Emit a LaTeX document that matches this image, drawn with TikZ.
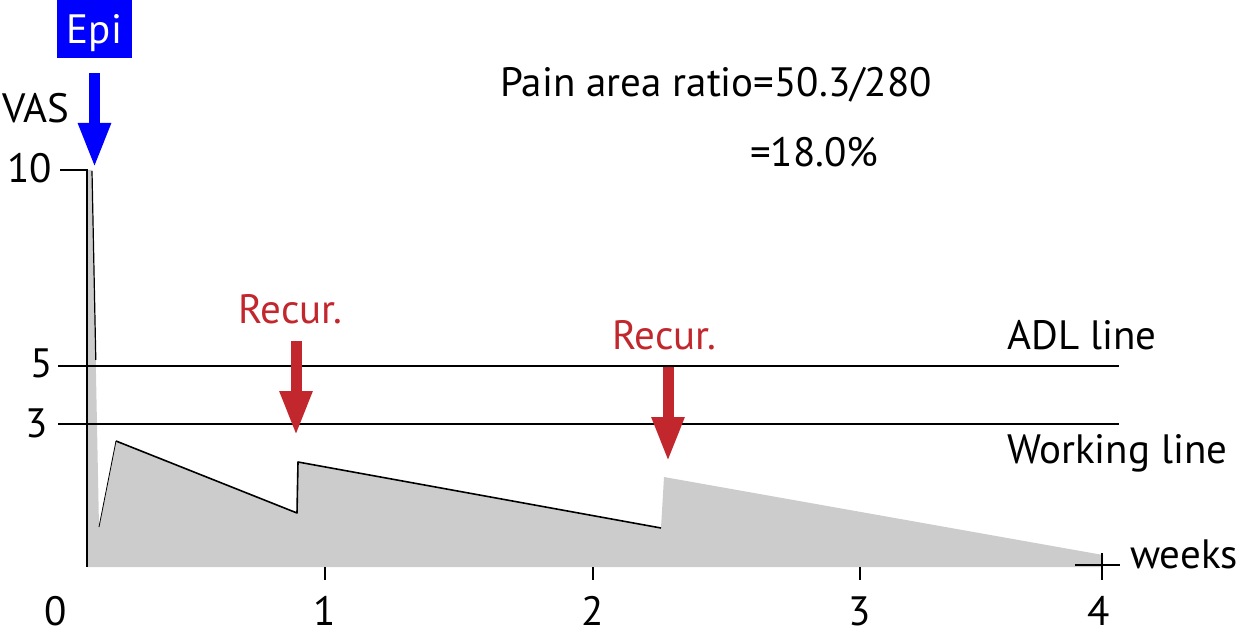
\documentclass[tikz,border=0pt]{standalone}
\usepackage{fontspec}
\setmainfont{PT Sans}
\usetikzlibrary{arrows.meta}
\definecolor{recur}{RGB}{193,39,45}
\definecolor{area}{RGB}{204,204,204}
\begin{document}
\begin{tikzpicture}[x=1pt,y=-1pt,
  font=\fontsize{41}{45}\selectfont,
  lbl/.style={inner sep=0pt, anchor=base},
  axisline/.style={line width=2.5pt},
  curveline/.style={line width=1.6pt, line join=round},
  bigarrow/.style={line width=11pt, -{Triangle[width=30pt,length=45pt]}},
]
\useasboundingbox (0,0) rectangle (1239,639);
% pain area
\fill[area] (87,170) -- (92,170) -- (99,527) -- (116,441) -- (297,513) -- (298,462)
  -- (661,528) -- (664,477) -- (1103,555) -- (1103,567) -- (87,567) -- cycle;
% curve outline
\draw[line width=1.2pt] (92,171) -- (95.8,360);
\draw[line width=0.8pt] (99,527) -- (116,441);
\draw[curveline] (116,441) -- (297,513) -- (298,462) -- (661,528);
% axes
\draw[axisline] (60,170) -- (87,170) -- (87,567);
\draw[line width=2pt] (1075,565) -- (1120,565);
\foreach \x in {325,593,860} \draw[line width=2.5pt] (\x,567) -- (\x,580);
\draw[line width=2.5pt] (1102,553) -- (1102,580);
% reference lines
\draw[axisline] (58,366) -- (1119,366);
\draw[axisline] (58,424) -- (1119,424);
% labels
\node[lbl, anchor=base west] (vas) at (2,123) {VAS};
\node[lbl, anchor=base east] (t10) at (52,183) {10};
\node[lbl, anchor=base east] (t5) at (53,377) {5};
\node[lbl, anchor=base east] (t3) at (48,437) {3};
\node[lbl] (x0) at (56,625) {0};
\node[lbl] (x1) at (325,625) {1};
\node[lbl] (x2) at (593,625) {2};
\node[lbl] (x3) at (860,625) {3};
\node[lbl] (x4) at (1099,625) {4};
\node[lbl, anchor=base west] (weeks) at (1130,568) {weeks};
\node[lbl, anchor=base west] (adl) at (1007,349) {ADL line};
\node[lbl, anchor=base west] (work) at (1007,463) {Working line};
\node[lbl, anchor=base west] (title) at (500,97) {Pain area ratio=50.3/280};
\node[lbl, anchor=base west] (ratio) at (750,167) {=18.0\%};
\node[lbl, text=recur] (rec1) at (290,323) {Recur.};
\node[lbl, text=recur] (rec2) at (664,349) {Recur.};
\node[fill=blue, text=white, minimum width=75pt, minimum height=58pt, inner sep=0pt,
      text height=29pt, text depth=0pt] (epi) at (94.5,29) {Epi};
% arrows
\coordinate (peak) at (94.5,168);
\coordinate (r1top) at (296,341);
\coordinate (r1tip) at (296,436);
\coordinate (r2top) at (668,367);
\coordinate (r2tip) at (668,462);
\draw[bigarrow, blue] ([yshift=-15pt]epi.south) -- (peak);
\draw[bigarrow, recur] (r1top) -- (r1tip);
\draw[bigarrow, recur] (r2top) -- (r2tip);
\end{tikzpicture}
\end{document}
